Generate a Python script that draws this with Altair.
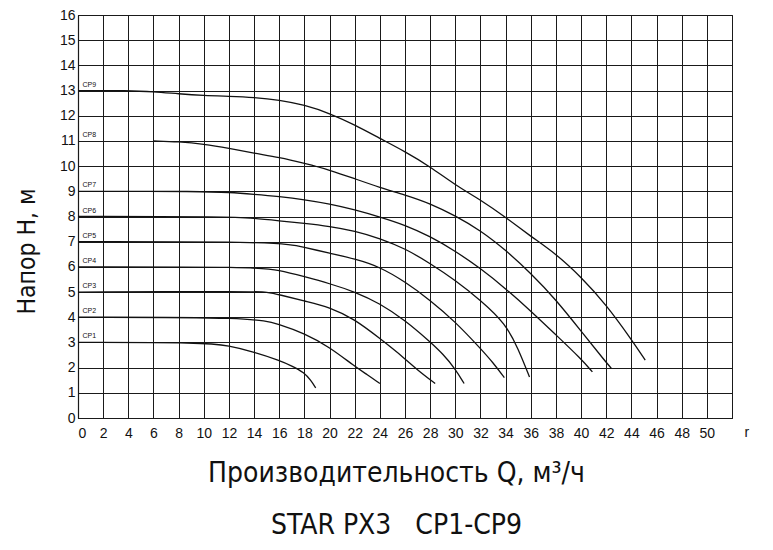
import altair as alt
import pandas as pd

# ---- data ----
cp1_q = [0, 10, 12, 14, 16, 17, 18, 18.5, 18.9]
cp1_h = [3, 3, 2.87, 2.62, 2.29, 2.07, 1.8, 1.5, 1.2]

cp2_q = [0, 14, 16, 18, 20, 22, 23, 24]
cp2_h = [4, 4, 3.72, 3.36, 2.82, 2.05, 1.72, 1.37]

cp3_q = [0, 14, 15, 16, 18, 20, 22, 24, 26, 27, 28.4]
cp3_h = [5, 5.03, 5.0, 4.9, 4.64, 4.41, 3.92, 3.16, 2.36, 1.9, 1.37]

cp4_q = [0, 14, 16, 18, 20, 22, 24, 26, 28, 29, 30, 30.7]
cp4_h = [6, 6, 5.87, 5.61, 5.34, 5.01, 4.55, 3.88, 3.02, 2.55, 1.95, 1.37]

cp5_q = [0, 16, 18, 20, 22, 24, 26, 28, 30, 32, 33, 33.9]
cp5_h = [7, 7, 6.78, 6.54, 6.32, 6.0, 5.41, 4.68, 3.82, 2.76, 2.2, 1.6]

cp6_q = [0, 12, 14, 16, 18, 20, 22, 24, 26, 28, 30, 32, 34, 35, 35.9]
cp6_h = [8, 8, 7.93, 7.83, 7.73, 7.61, 7.43, 7.13, 6.73, 6.14, 5.47, 4.68, 3.75, 2.75, 1.63]

cp7_q = [0, 10, 12, 14, 16, 18, 20, 22, 24, 26, 28, 30, 32, 34, 36, 38, 40, 40.9]
cp7_h = [9, 9, 8.96, 8.88, 8.79, 8.67, 8.5, 8.27, 7.98, 7.66, 7.21, 6.63, 5.94, 5.14, 4.25, 3.3, 2.35, 1.83]

cp8_q = [6, 8, 10, 12, 14, 16, 18, 20, 22, 24, 26, 28, 30, 32, 34, 36, 38, 40, 42, 42.4]
cp8_h = [11, 10.97, 10.88, 10.71, 10.51, 10.35, 10.11, 9.85, 9.5, 9.15, 8.86, 8.52, 8.03, 7.45, 6.67, 5.75, 4.7, 3.45, 2.2, 1.98]

cp9_q = [0, 4, 6, 8, 10, 12, 14, 16, 18, 20, 22, 24, 26, 28, 30, 32, 34, 36, 38, 40, 42, 44, 45.1]
cp9_h = [13, 13, 12.96, 12.87, 12.8, 12.77, 12.73, 12.63, 12.43, 12.1, 11.64, 11.1, 10.58, 9.98, 9.25, 8.66, 7.97, 7.21, 6.52, 5.6, 4.5, 3.12, 2.3]

series_names = ["CP1", "CP2", "CP3", "CP4", "CP5", "CP6", "CP7", "CP8", "CP9"]
series_q = [cp1_q, cp2_q, cp3_q, cp4_q, cp5_q, cp6_q, cp7_q, cp8_q, cp9_q]
series_h = [cp1_h, cp2_h, cp3_h, cp4_h, cp5_h, cp6_h, cp7_h, cp8_h, cp9_h]

x_ticks = list(range(0, 53, 2))
y_ticks = list(range(0, 17))

x_title = ["Производительность Q, м³/ч", "STAR\u00a0PX3\u00a0\u00a0\u00a0CP1-CP9"]
y_title = "Напор H, м"
unit_stub = "r"

# ---- build tables ----
rows = []
for name, qs, hs in zip(series_names, series_q, series_h):
    for q, h in zip(qs, hs):
        rows.append({"series": name, "Q": q, "H": h})
df = pd.DataFrame(rows)

labels = pd.DataFrame({
    "series": series_names,
    "Q": [0.35] * len(series_names),
    "H": [hs[0] for hs in series_h],
})

stub = pd.DataFrame({"Q": [53.0], "H": [0.0], "t": [unit_stub]})

x_scale = alt.Scale(domain=[0, 52], nice=False, zero=False)
y_scale = alt.Scale(domain=[0, 16], nice=False, zero=False)

FONT = "Liberation Sans, Arial, sans-serif"
NARROW = "'Liberation Sans Narrow', 'Arial Narrow', 'DejaVu Sans Condensed', 'Roboto Condensed', 'Liberation Sans', sans-serif"

x_axis = alt.Axis(
    values=x_ticks,
    tickCount=27,
    labelExpr="datum.value == 52 ? '' : datum.label",
    labelOverlap=False,
    grid=True, ticks=False, domain=True,
    labelPadding=8, labelFontSize=14, labelFont=FONT, labelColor="#111",
    title=x_title, titleFont=NARROW, titleFontSize=28, titleFontWeight="normal",
    titleColor="#111", titleLineHeight=52, titleX=318, titleY=41,
    titleBaseline="top",
)
y_axis = alt.Axis(
    values=y_ticks, tickCount=17, grid=True, ticks=False, domain=True,
    labelOverlap=False,
    labelPadding=3, labelFontSize=14, labelFont=FONT, labelColor="#111",
    title=y_title, titleFont=NARROW, titleFontSize=24.5, titleFontWeight="normal",
    titleColor="#111", titleAngle=-90, titleX=-51, titleY=236,
    titleAlign="center", titleBaseline="middle",
)

X = alt.X("Q:Q", scale=x_scale, axis=x_axis)
Y = alt.Y("H:Q", scale=y_scale, axis=y_axis)

lines = alt.Chart(df).mark_line(color="#111", strokeWidth=1.3, interpolate="basis").encode(
    x=X, y=Y, detail="series:N",
)

text = alt.Chart(labels).mark_text(
    align="left", baseline="bottom", dy=-3, fontSize=7, font=FONT, color="#111"
).encode(x=X, y=Y, text="series:N")

stub_text = alt.Chart(stub).mark_text(
    align="left", baseline="top", dy=8, fontSize=14, font=FONT, color="#111", clip=False
).encode(x=X, y=Y, text="t:N")

chart = alt.layer(lines, text, stub_text).properties(
    width=654, height=403,
    autosize=alt.AutoSizeParams(type="none"),
    padding={"left": 70, "top": 7, "right": 33, "bottom": 124},
    background="white",
).configure_axis(
    gridColor="#1a1a1a", gridOpacity=1, gridWidth=1,
    domainColor="#1a1a1a", domainWidth=1.2,
).configure_view(stroke="#1a1a1a", strokeWidth=1)

chart.save("out.html", embed_options={"renderer": "svg", "actions": False})
